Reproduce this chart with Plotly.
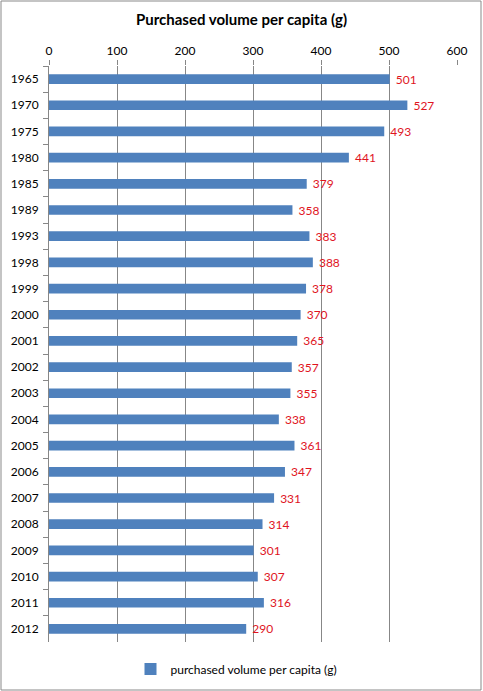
import plotly.graph_objects as go

# Data
years = ['1965', '1970', '1975', '1980', '1985', '1989', '1993', '1998', '1999', '2000', '2001',
         '2002', '2003', '2004', '2005', '2006', '2007', '2008', '2009', '2010', '2011', '2012']
volume = [501, 527, 493, 441, 379, 358, 383, 388, 378, 370, 365,
          357, 355, 338, 361, 347, 331, 314, 301, 307, 316, 290]
x_ticks = [0, 100, 200, 300, 400, 500, 600]

W, H = 483, 691
m_l, m_r, m_t, m_b = 49, 26, 66, 49
pw = W - m_l - m_r
ph = H - m_t - m_b

fig = go.Figure()
fig.add_trace(go.Bar(
    y=years, x=volume, orientation='h',
    name='purchased volume per capita (g)',
    marker=dict(color='#4F81BD', line=dict(width=0)),
    width=0.37,
    text=['\u00a0' + str(v) for v in volume], textposition='outside',
    constraintext='none',
    textfont=dict(color='#E0141E', size=12, family='Lato, Noto Sans, sans-serif'),
    cliponaxis=False,
))

# outer chart border
fig.add_shape(type='rect', xref='paper', yref='paper',
              x0=(1 - m_l) / pw, x1=(W - 2 - m_l) / pw,
              y0=-(m_b - 1) / ph, y1=1 + (m_t - 1) / ph,
              line=dict(color='#898989', width=1))

fig.update_layout(
    width=W, height=H,
    margin=dict(l=m_l, r=m_r, t=m_t, b=m_b, autoexpand=False),
    paper_bgcolor='white', plot_bgcolor='white',
    font=dict(family='Lato, Noto Sans, sans-serif', size=12, color='black'),
    title=dict(text='<b>Purchased volume per capita (g)</b>', x=0.5, xref='container',
               y=1 - 20 / H, yanchor='middle', font=dict(size=15)),
    bargap=0.6,
    showlegend=True,
    legend=dict(orientation='h', x=(W / 2 - 5 - m_l) / pw, xanchor='center',
                y=-(669 - m_t - ph) / ph, yanchor='middle',
                font=dict(size=12), itemwidth=30),
    xaxis=dict(side='top', range=[0, 600], tickvals=x_ticks, showgrid=True,
               gridcolor='#878787', gridwidth=1, zeroline=False, showline=False,
               ticks='outside', ticklen=5, tickcolor='#878787',
               fixedrange=True, automargin=False),
    yaxis=dict(autorange='reversed', type='category', showline=True, linecolor='#878787',
               ticks='outside', tickson='boundaries', ticklen=5, tickcolor='#878787',
               ticklabelstandoff=7,
               showgrid=False, zeroline=False, fixedrange=True, automargin=False),
)

fig.write_html('out.html', config={'displayModeBar': False},
               post_script="document.body.style.margin='0';")
